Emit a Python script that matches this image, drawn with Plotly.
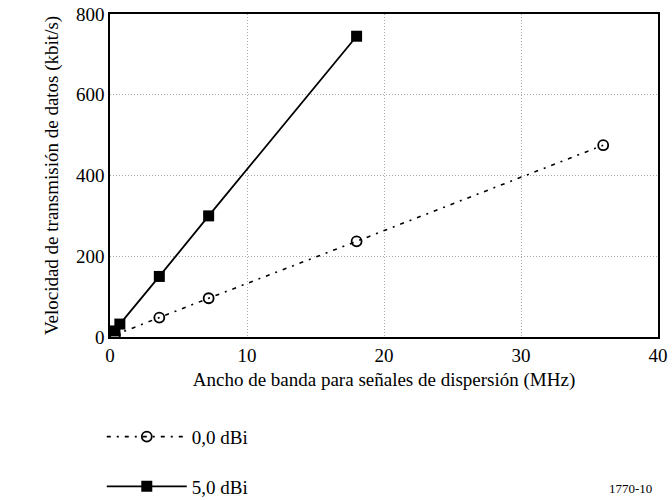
import plotly.graph_objects as go

bw_0dbi = [0.36, 3.6, 7.2, 18, 36]
rate_0dbi = [5, 48, 96, 237, 475]
bw_5dbi = [0.36, 0.72, 3.6, 7.2, 18]
rate_5dbi = [15, 32, 150, 300, 745]
x_ticks = [0, 10, 20, 30, 40]
y_ticks = [0, 200, 400, 600, 800]

FONT = "Liberation Serif, Times New Roman, serif"

fig = go.Figure()
fig.add_trace(go.Scatter(
    x=bw_0dbi, y=rate_0dbi, mode="lines+markers", name="0,0 dBi",
    legendgroup="a",
    line=dict(color="black", width=1.6, dash="4px,6px,2px,6px"),
    marker=dict(symbol="circle-open", size=10, color="black", line=dict(width=1.8)),
))
fig.add_trace(go.Scatter(
    x=bw_5dbi, y=rate_5dbi, mode="lines+markers", name="5,0 dBi",
    legendgroup="b",
    line=dict(color="black", width=1.8),
    marker=dict(symbol="square", size=11, color="black"),
))

axis_common = dict(
    showline=True, linecolor="black", linewidth=1.5, mirror=True,
    showgrid=True, gridcolor="#a8a8a8", griddash="1px,2px", gridwidth=1,
    zeroline=False, ticks="", tickfont=dict(family=FONT, size=19, color="black"),
    automargin=False,
)
fig.update_xaxes(range=[0, 40], tickvals=x_ticks,
                 title=dict(text="Ancho de banda para señales de dispersión (MHz)",
                            font=dict(family=FONT, size=19, color="black"), standoff=8),
                 **axis_common)
fig.update_yaxes(range=[0, 800], tickvals=y_ticks,
                 title=dict(text="Velocidad de transmisión de datos (kbit/s)",
                            font=dict(family=FONT, size=19, color="black"), standoff=12),
                 **axis_common)

fig.add_annotation(text="1770-10", xref="paper", yref="paper", x=1.0, y=0,
                   xanchor="right", yanchor="top", yshift=-142, xshift=-4,
                   showarrow=False,
                   font=dict(family=FONT, size=13, color="black"))

fig.update_layout(
    width=672, height=500,
    margin=dict(l=110, r=14, t=14, b=163, autoexpand=False),
    paper_bgcolor="white", plot_bgcolor="white",
    font=dict(family=FONT, color="black"),
    showlegend=True,
    legend=dict(orientation="v", x=-0.015, y=-0.25, xanchor="left", yanchor="top",
                font=dict(family=FONT, size=19, color="black"),
                tracegroupgap=22, itemwidth=80, bgcolor="rgba(0,0,0,0)"),
)

fig.write_html("out.html", config={"displayModeBar": False},
               post_script="document.body.style.margin='0';")
